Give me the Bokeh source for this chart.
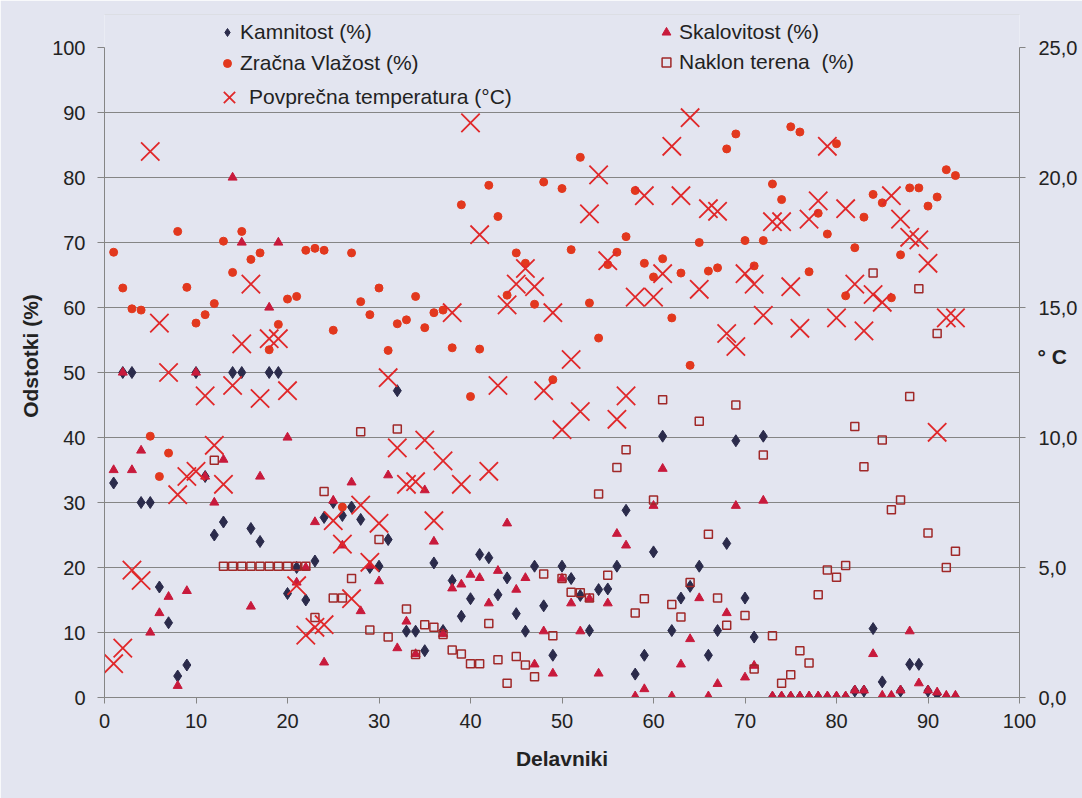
import numpy as np
from bokeh.plotting import figure
from bokeh.models import (ColumnDataSource, Range1d, LinearAxis, FixedTicker,
                          Legend, LegendItem, BoxAnnotation)
from bokeh.embed import file_html
from bokeh.resources import INLINE

NaN = float("nan")

# ---------------- data ----------------
days = list(range(1, 94))

kamnitost = [33, 50, 50, 30, 30, 17, 11.5, 3.3, 5, 50,
             34, 25, 27, 50, 50, 26, 24, 50, 50, 16,
             20, 15, 21, 27.7, 30, 28, 29.3, 27.4, 20, 20.2,
             24.3, 47.2, 10.2, 10.2, 7.2, 20.7, 10.3, 18, 12.5, 15.2,
             22, 21.5, 15.8, 18.4, 12.9, 10.2, 20.2, 14.1, 6.5, 20.2,
             18.3, 15.7, 10.3, 16.6, 16.7, 20.2, 28.8, 3.6, 6.5, 22.4,
             40.2, 10.3, 15.3, 17.1, 20.2, 6.5, 10.3, 23.7, 39.5, 15.3,
             9.3, 40.2, 0, 0, 0, 0, 0, 0, 0, 0,
             0, 1, 1, 10.6, 2.4, 0, 1, 5.1, 5.1, 1,
             0.5, 0, 0]

skalovitost = [35, 50, 35, 38, 10, 13, 15.5, 1.8, 16.4, 50,
               34, 30, 36.6, 80, 70, 14, 34, 60, 70, 40,
               17.7, 20, 27, 5.4, 30.3, 23.4, 33.1, 13.3, 20.3, 17.9,
               34.2, 7.6, 11.7, 6.7, 31.9, 24, 9.8, 16.8, 17.4, 18.9,
               18.4, 14.5, 19.5, 26.8, 16.6, 18.4, 5.1, 10.2, 3.7, 18.3,
               14.5, 10.2, 15.2, 3.7, 14.5, 25.2, 23.4, 0.2, 1.3, 29.5,
               35.2, 0.2, 5.1, 9, 15.3, 0.2, 2.1, 13, 29.5, 3.1,
               4.9, 30.3, 0.2, 0.2, 0.2, 0.2, 0.2, 0.2, 0.2, 0.2,
               0.2, 1.1, 1.1, 6.7, 0.3, 0.3, 1.1, 10.2, 2.2, 1.1,
               0.8, 0.3, 0.3]

zracna_vlazost = [68.5, 63, 59.8, 59.6, 40.2, 34, 37.6, 71.7, 63.1, 57.6,
                  58.9, 60.6, 70.2, 65.4, 71.7, 67.4, 68.4, 53.5, 57.4, 61.3,
                  61.7, 68.8, 69.1, 68.8, 56.5, 29.3, 68.4, 60.9, 58.9, 63,
                  53.4, 57.5, 58.1, 61.7, 56.9, 59.2, 59.6, 53.8, 75.8, 46.3,
                  53.6, 78.8, 74, 61.9, 68.4, 66.8, 60.5, 79.3, 48.9, 78.3,
                  68.9, 83.1, 60.7, 55.3, 66.6, 68.5, 70.9, 78, 66.8, 64.7,
                  67.5, 58.4, 65.3, 51.1, 70, 65.6, 66.1, 84.4, 86.7, 70.3,
                  66.4, 70.3, 79, 76.6, 87.8, 87, 65.5, 74.5, 71.3, 85.2,
                  61.8, 69.2, 73.9, 77.4, 76.1, 61.5, 68.1, 78.4, 78.4, 75.6,
                  77, 81.2, 80.3]

naklon_terena = [NaN, NaN, NaN, NaN, NaN, NaN, NaN, NaN, NaN, NaN,
                 NaN, 36.5, 20.2, 20.2, 20.2, 20.2, 20.2, 20.2, 20.2, 20.2,
                 20.2, 20.2, 12.3, 31.7, 15.3, 15.3, 18.3, 40.9, 10.4, 24.3,
                 9.3, 41.3, 13.6, 6.6, 11.2, 10.8, 9.7, 7.3, 6.7, 5.2,
                 5.2, 11.4, 5.8, 2.2, 6.3, 5, 3.2, 19, 9.5, 18.3,
                 16.2, 16.1, 15.3, 31.3, 18.8, 35.4, 38.1, 13, 15.2, 30.4,
                 45.8, 14.3, 12.4, 17.7, 42.5, 25.1, 15.3, 11.1, 45, 12.6,
                 4.4, 37.3, 9.5, 2.2, 3.5, 7.2, 5.3, 15.8, 19.6, 18.5,
                 20.3, 41.7, 35.5, 65.3, 39.6, 28.9, 30.4, 46.3, 62.9, 25.3,
                 56, 20, 22.5]

# average temperature in degrees C (right axis)
temperatura = [1.3, 1.9, 4.9, 4.5, 21.0, 14.4, 12.5, 7.8, 8.5, 8.7,
               11.6, 9.7, 8.2, 12.0, 13.6, 15.9, 11.5, 13.8, 13.8, 11.8,
               4.3, 2.4, 2.7, 2.8, 6.8, 5.9, 3.8, 7.4, 5.2, 6.7,
               12.3, 9.6, 8.2, 8.3, 9.9, 6.8, 9.1, 14.8, 8.2, 22.1,
               17.8, 8.7, 12.0, 15.1, 15.9, 16.5, 15.8, 11.8, 14.8, 10.3,
               13.0, 11.0, 18.6, 20.1, 16.8, 10.7, 11.6, 15.4, 19.3, 15.4,
               16.3, 21.2, 19.3, 22.3, 15.7, 18.8, 18.7, 14.0, 13.5, 16.3,
               15.9, 14.7, 18.3, 18.3, 15.8, 14.2, 18.4, 19.1, 21.2, 14.6,
               18.8, 15.9, 14.1, 15.5, 15.2, 19.3, 18.4, 17.7, 17.6, 16.7,
               10.2, 14.6, 14.6]

x_ticks = list(range(0, 101, 10))
y_ticks = list(range(0, 101, 10))
t_ticks = [0, 5, 10, 15, 20, 25]
t_labels = {0: "0,0", 5: "5,0", 10: "10,0", 15: "15,0", 20: "20,0", 25: "25,0"}

# ---------------- styling ----------------
BG = "#e3e5f0"
GRID = "#858585"
TXT = "#222222"
FONT = "Liberation Sans"
C_KAM = "#2b2b4b"
C_SKA = "#c81a3c"
C_VLA = "#e2381e"
C_NAK = "#a02828"
C_TEM = "#e0282a"

# frame: 650 px for 0..100 %, plus 33 px headroom for the legend
Y_TOP = 100 * 683 / 650
T_TOP = Y_TOP / 4

src = ColumnDataSource(data=dict(
    day=np.array(days, dtype=float),
    kam=np.array(kamnitost, dtype=float),
    ska=np.array(skalovitost, dtype=float),
    vla=np.array(zracna_vlazost, dtype=float),
    nak=np.array(naklon_terena, dtype=float),
    tem=np.array(temperatura, dtype=float),
))

p = figure(width=1082, height=798, output_backend="svg", toolbar_location=None,
           x_range=Range1d(0, 100), y_range=Range1d(0, Y_TOP),
           min_border_left=104, min_border_right=63, min_border_top=14,
           min_border_bottom=101,
           background_fill_color=BG, border_fill_color=BG,
           outline_line_color=None)
p.extra_y_ranges = {"temp": Range1d(0, T_TOP)}

# outer frame of the scanned figure (top and left edges)
try:
    frame_box = BoxAnnotation(left=8, right=1200, top=13, bottom=1000,
                              left_units="canvas", right_units="canvas",
                              top_units="canvas", bottom_units="canvas",
                              fill_alpha=0, line_color="#3a3a3a",
                              line_width=2, level="underlay")
    p.add_layout(frame_box)
except Exception:
    pass

# grid
p.xgrid.visible = False
p.ygrid.ticker = FixedTicker(ticks=y_ticks[1:-1])
p.ygrid.grid_line_color = GRID
p.ygrid.grid_line_width = 1


def style_axis(ax, tick_out, standoff):
    ax.axis_line_color = GRID
    ax.axis_line_width = 1
    ax.major_tick_line_color = GRID
    ax.major_tick_out = tick_out
    ax.major_tick_in = 0
    ax.minor_tick_line_color = None
    ax.major_label_text_font = FONT
    ax.major_label_text_font_size = "20px"
    ax.major_label_text_color = TXT
    ax.major_label_standoff = standoff
    ax.axis_label_text_font = FONT
    ax.axis_label_text_font_size = "21px"
    ax.axis_label_text_font_style = "bold"
    ax.axis_label_text_color = TXT


xa = p.xaxis[0]
xa.ticker = FixedTicker(ticks=x_ticks)
xa.axis_label = "Delavniki"
style_axis(xa, 6, 10)
xa.axis_label_standoff = 16

ya = p.yaxis[0]
ya.ticker = FixedTicker(ticks=y_ticks)
ya.bounds = (0, 100)
ya.axis_label = "Odstotki (%)"
style_axis(ya, 7, 12)
ya.axis_label_standoff = 7

ra = LinearAxis(y_range_name="temp", ticker=FixedTicker(ticks=t_ticks),
                major_label_overrides=t_labels, axis_label="° C",
                bounds=(0, 25))
style_axis(ra, 6, 13)
ra.axis_label_orientation = "horizontal"
ra.axis_label_standoff = -43
p.add_layout(ra, "right")

# series
r_kam = p.scatter(x="day", y="kam", source=src, marker="diamond", size=12,
                  fill_color=C_KAM, line_color=C_KAM)
r_ska = p.scatter(x="day", y="ska", source=src, marker="triangle", size=9,
                  fill_color=C_SKA, line_color=C_SKA)
r_vla = p.scatter(x="day", y="vla", source=src, marker="circle", size=8,
                  fill_color=C_VLA, line_color=C_VLA)
r_nak = p.scatter(x="day", y="nak", source=src, marker="square", size=8,
                  fill_color=None, line_color=C_NAK, line_width=1.5)
r_tem = p.scatter(x="day", y="tem", source=src, y_range_name="temp",
                  marker="x", size=26, line_color=C_TEM, line_width=1.8)


def add_legend(label, rend, loc, gw, gh, standoff):
    lg = Legend(items=[LegendItem(label=label, renderers=[rend])],
                location=loc, orientation="vertical",
                glyph_width=gw, glyph_height=gh, label_height=gh,
                label_standoff=standoff, padding=0, margin=0, spacing=0,
                border_line_color=None, background_fill_alpha=0,
                label_text_font=FONT, label_text_font_size="21px",
                label_text_color=TXT)
    p.add_layout(lg, "center")


add_legend("Kamnitost (%)", r_kam, (113, 652), 20, 26, 3)
add_legend("Zračna Vlažost (%)", r_vla, (113, 621), 20, 26, 3)
add_legend("Povprečna temperatura (°C)", r_tem, (105, 580), 40, 40, -9)
add_legend("Skalovitost (%)", r_ska, (551, 652), 22, 26, 2)
add_legend("Naklon terena  (%)", r_nak, (551, 622), 22, 26, 2)

open("out.html", "w").write(file_html(p, INLINE))
